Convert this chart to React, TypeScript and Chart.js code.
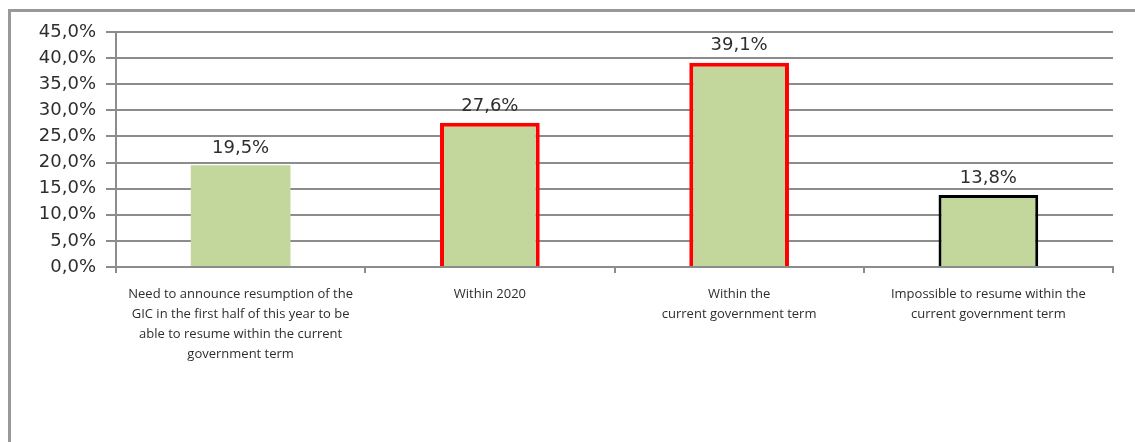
import React, { useEffect, useRef } from "react";
import { Chart, registerables } from "chart.js";

Chart.register(...registerables);

const categories: string[][] = [
  ["Need to announce resumption of the", "GIC in the first half of this year to be", "able to resume within the current", "government term"],
  ["Within 2020"],
  ["Within the", "current government term"],
  ["Impossible to resume within the", "current government term"],
];
const values: number[] = [19.5, 27.6, 39.1, 13.8];
const borderColors: string[] = ["rgba(0,0,0,0)", "#ff0000", "#ff0000", "#000000"];
const borderWidths: number[] = [0, 4, 4, 3];
const yMin = 0;
const yMax = 45;
const yStep = 5;

const fmt = (v: number) => v.toFixed(1).replace(".", ",") + "%";

const valueLabels = {
  id: "valueLabels",
  afterDatasetsDraw(chart: any) {
    const ctx = chart.ctx;
    const meta = chart.getDatasetMeta(0);
    ctx.save();
    ctx.font = "18px 'DejaVu Sans'";
    ctx.fillStyle = "#2e2e2e";
    ctx.textAlign = "center";
    ctx.textBaseline = "bottom";
    meta.data.forEach((bar: any, i: number) => {
      ctx.fillText(fmt(values[i]), bar.x, bar.y - 8);
    });
    ctx.restore();
  },
};

export default function App() {
  const ref = useRef<HTMLCanvasElement>(null);
  useEffect(() => {
    if (!ref.current) return;
    const chart = new Chart(ref.current, {
      type: "bar",
      data: {
        labels: categories,
        datasets: [
          {
            data: values,
            backgroundColor: "#c3d69b",
            borderColor: borderColors,
            borderWidth: borderWidths,
            barPercentage: 0.8,
            categoryPercentage: 0.5,
          },
        ],
      },
      options: {
        animation: false,
        responsive: false,
        maintainAspectRatio: false,
        layout: { padding: { left: 0, top: 32, right: 22, bottom: 0 } },
        plugins: { legend: { display: false }, tooltip: { enabled: false } },
        scales: {
          x: {
            grid: {
              offset: true,
              drawOnChartArea: false,
              drawTicks: true,
              tickLength: 6,
              color: "#8c8c8c",
              lineWidth: 2,
            },
            border: { color: "#8c8c8c", width: 2 },
            ticks: {
              maxRotation: 0,
              autoSkip: false,
              padding: 11,
              color: "#2e2e2e",
              font: { family: "'Open Sans'", size: 13, lineHeight: 1.55 },
            },
            afterFit: (s: any) => {
              s.height = 442 - 267;
            },
          },
          y: {
            min: yMin,
            max: yMax,
            ticks: {
              stepSize: yStep,
              padding: 10,
              color: "#2e2e2e",
              font: { family: "'DejaVu Sans'", size: 18 },
              callback: (v: any) => fmt(Number(v)),
            },
            grid: { color: "#8c8c8c", lineWidth: 2, tickLength: 10 },
            border: { color: "#8c8c8c", width: 2 },
            afterFit: (s: any) => {
              s.width = 116;
            },
          },
        },
      },
      plugins: [valueLabels],
    });
    return () => chart.destroy();
  }, []);

  return (
    <div style={{ position: "fixed", left: 0, top: 0, width: 1135, height: 442, overflow: "hidden", background: "#ffffff" }}>
      <div style={{ position: "absolute", left: 8, top: 9, width: 2000, height: 2000, border: "3px solid #999999" }} />
      <canvas ref={ref} width={1135} height={442} style={{ position: "absolute", left: 0, top: 0 }} />
    </div>
  );
}
